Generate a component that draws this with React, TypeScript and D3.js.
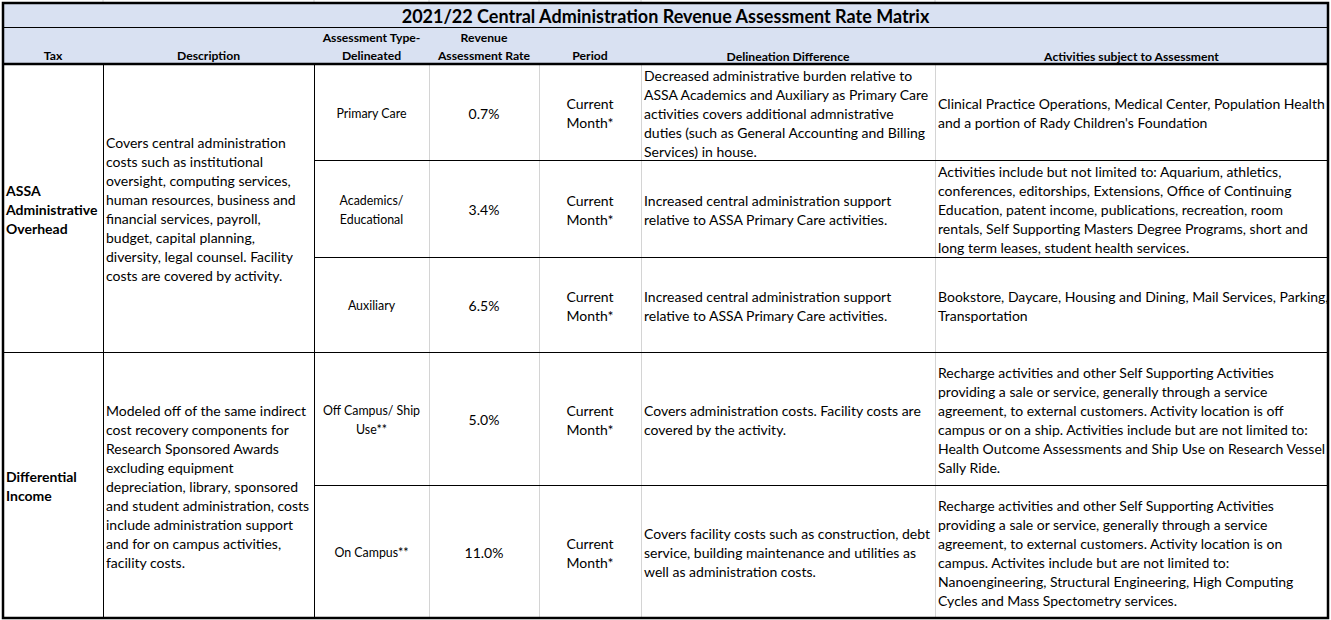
import React from "react";
import * as d3 from "d3";

const title = "2021/22 Central Administration Revenue Assessment Rate Matrix";

const headers: string[][] = [
  ["Tax"],
  ["Description"],
  ["Assessment Type-", "Delineated"],
  ["Revenue", "Assessment Rate"],
  ["Period"],
  ["Delineation Difference"],
  ["Activities subject to Assessment"],
];

const taxes: string[][] = [
  ["ASSA", "Administrative", "Overhead"],
  ["Differential", "Income"],
];

const descriptions: string[][] = [
  [
    "Covers central administration",
    "costs such as institutional",
    "oversight, computing services,",
    "human resources, business and",
    "financial services, payroll,",
    "budget, capital planning,",
    "diversity, legal counsel. Facility",
    "costs are covered by activity.",
  ],
  [
    "Modeled off of the same indirect",
    "cost recovery components for",
    "Research Sponsored Awards",
    "excluding equipment",
    "depreciation, library, sponsored",
    "and student administration, costs",
    "include administration support",
    "and for on campus activities,",
    "facility costs.",
  ],
];

// which tax group each assessment row belongs to
const groupOf = [0, 0, 0, 1, 1];

const types: string[][] = [
  ["Primary Care"],
  ["Academics/", "Educational"],
  ["Auxiliary"],
  ["Off Campus/ Ship", "Use**"],
  ["On Campus**"],
];

const rates = [0.007, 0.034, 0.065, 0.05, 0.11];

const periods: string[][] = [
  ["Current", "Month*"],
  ["Current", "Month*"],
  ["Current", "Month*"],
  ["Current", "Month*"],
  ["Current", "Month*"],
];

const differences: string[][] = [
  [
    "Decreased administrative burden relative to",
    "ASSA Academics and Auxiliary as Primary Care",
    "activities covers additional admnistrative",
    "duties (such as General Accounting and Billing",
    "Services) in house.",
  ],
  ["Increased central administration support", "relative to ASSA Primary Care activities."],
  ["Increased central administration support", "relative to ASSA Primary Care activities."],
  ["Covers administration costs. Facility costs are", "covered by the activity."],
  [
    "Covers facility costs such as construction, debt",
    "service, building maintenance and utilities as",
    "well as administration costs.",
  ],
];

const activities: string[][] = [
  [
    "Clinical Practice Operations, Medical Center, Population Health",
    "and a portion of Rady Children's Foundation",
  ],
  [
    "Activities include but not limited to: Aquarium, athletics,",
    "conferences, editorships, Extensions, Office of Continuing",
    "Education, patent income, publications, recreation, room",
    "rentals, Self Supporting Masters Degree Programs, short and",
    "long term leases, student health services.",
  ],
  [
    "Bookstore, Daycare, Housing and Dining, Mail Services, Parking,",
    "Transportation",
  ],
  [
    "Recharge activities and other Self Supporting Activities",
    "providing a sale or service, generally through a service",
    "agreement, to external customers. Activity location is off",
    "campus or on a ship. Activities include but are not limited to:",
    "Health Outcome Assessments and Ship Use on Research Vessel",
    "Sally Ride.",
  ],
  [
    "Recharge activities and other Self Supporting Activities",
    "providing a sale or service, generally through a service",
    "agreement, to external customers. Activity location is on",
    "campus. Activites include but are not limited to:",
    "Nanoengineering, Structural Engineering, High Computing",
    "Cycles and Mass Spectometry services.",
  ],
];

// layout
const colEdges = [3, 103, 314, 429, 539, 641, 935, 1328];
const titleTop = 3;
const titleBottom = 27;
const headBottom = 64;
const rowEdges = [64, 160, 257, 352, 485, 618];
const groupEdges = [64, 352, 618];

const FONT = "Lato, 'Open Sans', sans-serif";
const BODY = 14;
const LH = 19;
const HEAD_FILL = "#D9E1F2";
const GRID = "#D4D4D4";

const fmt = d3.format(".1%");

function Lines({
  lines,
  x,
  cy,
  anchor,
  size,
  weight = 400,
  lh = LH,
}: {
  lines: string[];
  x: number;
  cy: number;
  anchor: "start" | "middle";
  size: number;
  weight?: number;
  lh?: number;
}) {
  const n = lines.length;
  return (
    <g>
      {lines.map((t, i) => (
        <text
          key={i}
          x={x}
          y={cy + (i - (n - 1) / 2) * lh}
          textAnchor={anchor}
          dominantBaseline="central"
          fontSize={size}
          fontWeight={weight}
          fontFamily={FONT}
          fill="#000"
        >
          {t}
        </text>
      ))}
    </g>
  );
}

export default function App() {
  const W = 1331;
  const H = 620;
  const left = colEdges[0];
  const right = colEdges[colEdges.length - 1];
  const mid = (a: number, b: number) => (a + b) / 2;
  const cx = (i: number) => mid(colEdges[i], colEdges[i + 1]);
  const headerLineYs = [37, 55];

  return (
    <svg
      width={W}
      height={H}
      style={{ position: "absolute", left: 0, top: 0, background: "#fff" }}
    >
      {/* faint spreadsheet gridlines above table */}
      {colEdges.slice(1, -1).map((x, i) => (
        <line key={"g" + i} x1={x} x2={x} y1={0} y2={3} stroke={GRID} />
      ))}

      {/* title + header fill */}
      <rect x={left} y={titleTop} width={right - left} height={headBottom - titleTop} fill={HEAD_FILL} />

      {/* body gridlines (light) */}
      {colEdges.slice(3, -1).map((x, i) => (
        <line key={"v" + i} x1={x + 0.5} x2={x + 0.5} y1={headBottom} y2={rowEdges[rowEdges.length - 1]} stroke={GRID} />
      ))}

      {/* body black verticals */}
      {colEdges.slice(1, 3).map((x, i) => (
        <line key={"bv" + i} x1={x + 0.5} x2={x + 0.5} y1={headBottom} y2={rowEdges[rowEdges.length - 1]} stroke="#000" />
      ))}

      {/* row separators */}
      {rowEdges.slice(1, -1).map((y, i) => {
        const isGroup = groupEdges.includes(y);
        return (
          <line
            key={"h" + i}
            x1={isGroup ? left : colEdges[2]}
            x2={right}
            y1={y + 0.5}
            y2={y + 0.5}
            stroke="#000"
          />
        );
      })}

      {/* title separator */}
      <line x1={left} x2={right} y1={titleBottom + 0.5} y2={titleBottom + 0.5} stroke="#000" />
      {/* header bottom thick */}
      <line x1={left} x2={right} y1={headBottom} y2={headBottom} stroke="#000" strokeWidth={2.5} />
      {/* outer border */}
      <rect
        x={left}
        y={titleTop}
        width={right - left}
        height={rowEdges[rowEdges.length - 1] - titleTop}
        fill="none"
        stroke="#000"
        strokeWidth={2.5}
      />

      {/* title */}
      <text
        x={mid(left, right)}
        y={mid(titleTop, titleBottom) + 1}
        textAnchor="middle"
        dominantBaseline="central"
        fontSize={18}
        fontWeight={700}
        fontFamily={FONT}
        fill="#000"
      >
        {title}
      </text>

      {/* headers */}
      {headers.map((h, i) => {
        const ys = h.length === 2 ? headerLineYs : [i >= 5 ? 56 : 55];
        return (
          <g key={"hd" + i}>
            {h.map((t, j) => (
              <text
                key={j}
                x={cx(i)}
                y={ys[j]}
                textAnchor="middle"
                dominantBaseline="central"
                fontSize={12.2}
                fontWeight={700}
                fontFamily={FONT}
                fill="#000"
              >
                {t}
              </text>
            ))}
          </g>
        );
      })}

      {/* tax + description per group */}
      {taxes.map((t, g) => {
        const cy = mid(groupEdges[g], groupEdges[g + 1]) + 1;
        return (
          <g key={"grp" + g}>
            <Lines lines={t} x={colEdges[0] + 3} cy={cy} anchor="start" size={14} weight={700} />
            <Lines lines={descriptions[g]} x={colEdges[1] + 3} cy={cy} anchor="start" size={BODY} />
          </g>
        );
      })}

      {/* assessment rows */}
      {types.map((t, r) => {
        const cy = mid(rowEdges[r], rowEdges[r + 1]) + 1;
        return (
          <g key={"row" + r} data-group={groupOf[r]}>
            <Lines lines={t} x={cx(2)} cy={cy} anchor="middle" size={12.4} />
            <Lines lines={[fmt(rates[r])]} x={cx(3)} cy={cy} anchor="middle" size={BODY} />
            <Lines lines={periods[r]} x={cx(4)} cy={cy} anchor="middle" size={BODY} />
            <Lines lines={differences[r]} x={colEdges[5] + 3} cy={cy} anchor="start" size={BODY} />
            <Lines lines={activities[r]} x={colEdges[6] + 3} cy={cy} anchor="start" size={BODY} />
          </g>
        );
      })}
    </svg>
  );
}
